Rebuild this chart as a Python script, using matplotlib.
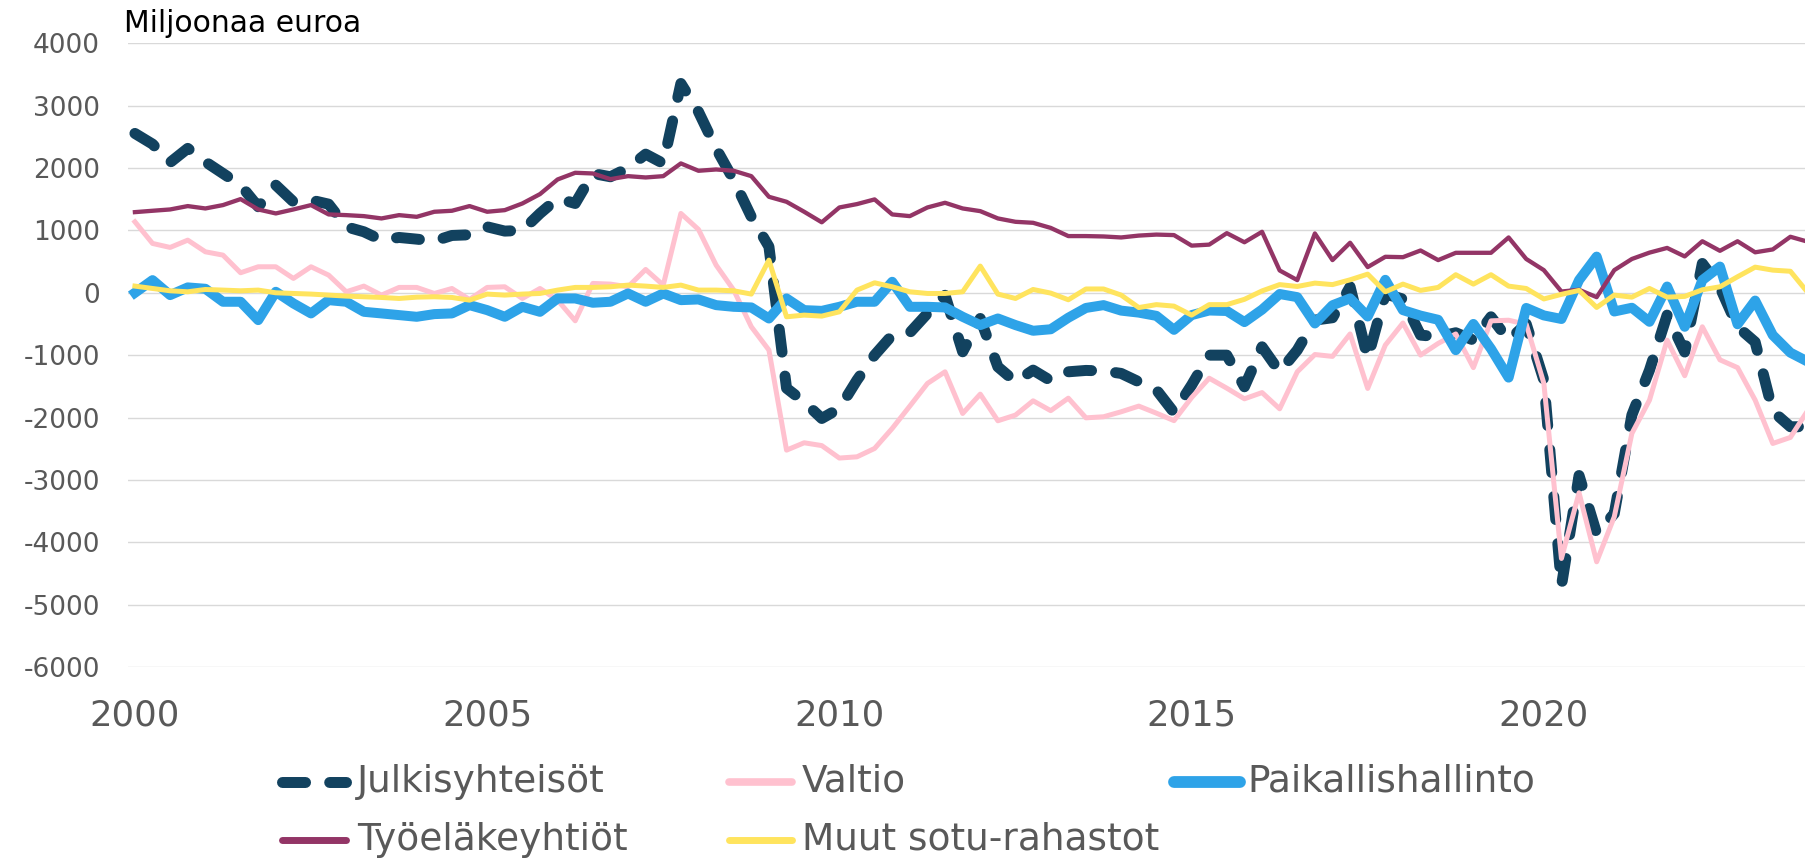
import numpy as np
import pandas as pd
import matplotlib
matplotlib.use("Agg")
import matplotlib.pyplot as plt
from matplotlib.lines import Line2D

plt.rcParams['font.family'] = ['DejaVu Sans']
plt.rcParams['axes.unicode_minus'] = False

# ---------------- data (million euro, quarterly 2000Q1-2023Q4) ----------------
quarters = pd.period_range('2000Q1', '2023Q4', freq='Q')

julkisyhteisot = [2555, 2384, 2090, 2315, 2100, 1913, 1726, 1380, 1726, 1459,
                  1486, 1421, 1058, 978, 845, 887, 860, 830, 919, 930,
                  1058, 989, 1000, 1272, 1512, 1432, 1913, 1860, 2000, 2223,
                  2074, 3356, 2902, 2314, 1807, 1218, 740, -1530, -1750, -2015,
                  -1855, -1400, -999, -679, -640, -331, -40, -946, -412, -1187,
                  -1427, -1240, -1410, -1267, -1245, -1253, -1293, -1427, -1555, -1920,
                  -1480, -1000, -1000, -1507, -866, -1267, -919, -438, -400, 96,
                  -1050, -20, -100, -679, -705, -641, -759, -385, -759, -500,
                  -1400, -4700, -2930, -3860, -3540, -1960, -1240, -358, -950, 470,
                  90, -545, -790, -1900, -2148, -2148]

valtio = [1138, 791, 727, 844, 657, 604, 321, 417, 417, 230,
          417, 283, 16, 107, -37, 86, 86, -11, 69, -107,
          86, 96, -91, 69, -118, -449, 150, 139, 96, 374,
          123, 1272, 1015, 444, 43, -545, -919, -2523, -2405, -2450,
          -2650, -2630, -2496, -2175, -1817, -1454, -1267, -1935, -1625, -2052,
          -1961, -1732, -1890, -1690, -2005, -1988, -1908, -1817, -1930, -2050,
          -1680, -1370, -1530, -1700, -1600, -1860, -1267, -990, -1020, -660,
          -1534, -839, -485, -999, -812, -660, -1200, -450, -440, -505,
          -1450, -4260, -3207, -4313, -3592, -2255, -1721, -759, -1330, -545,
          -1075, -1200, -1721, -2416, -2319, -1881]

paikallishallinto = [0, 203, -37, 86, 64, -144, -144, -438, 16, -171,
                     -331, -118, -144, -305, -331, -358, -385, -342, -331, -198,
                     -278, -385, -225, -305, -91, -91, -160, -144, -11, -144,
                     -11, -118, -107, -198, -225, -235, -412, -91, -278, -290,
                     -225, -144, -144, 176, -225, -225, -235, -385, -518, -412,
                     -518, -609, -585, -400, -243, -198, -286, -318, -370, -594,
                     -358, -284, -292, -470, -270, -20, -70, -492, -200, -90,
                     -380, 208, -278, -366, -433, -920, -500, -898, -1360, -243,
                     -363, -420, 203, 580, -300, -240, -465, 100, -545, 203,
                     420, -505, -125, -679, -960, -1106]

tyoelakeyhtiot = [1293, 1315, 1336, 1390, 1352, 1406, 1502, 1336, 1272, 1336,
                  1406, 1256, 1245, 1229, 1192, 1245, 1218, 1299, 1315, 1390,
                  1299, 1325, 1432, 1582, 1817, 1924, 1913, 1822, 1870, 1849,
                  1870, 2074, 1956, 1977, 1956, 1870, 1539, 1459, 1299, 1130,
                  1368, 1422, 1497, 1256, 1229, 1368, 1443, 1352, 1309, 1192,
                  1138, 1122, 1040, 909, 909, 903, 887, 917, 933, 925,
                  756, 772, 956, 810, 978, 358, 203, 951, 524, 802,
                  412, 577, 571, 678, 524, 641, 641, 641, 887, 542,
                  363, 20, 48, -70, 363, 542, 644, 719, 583, 826,
                  673, 826, 649, 695, 898, 818]

muut_sotu = [107, 69, 32, 16, 53, 43, 32, 43, 0, -11,
             -21, -37, -53, -64, -75, -91, -70, -64, -75, -118,
             -21, -37, -21, -11, 43, 86, 86, 96, 123, 107,
             86, 123, 43, 43, 32, -21, 524, -385, -358, -374,
             -305, 43, 160, 96, 16, -11, -11, 16, 428, -21,
             -91, 53, -5, -112, 61, 61, -37, -237, -190, -214,
             -358, -190, -190, -105, 30, 131, 101, 155, 131, 208,
             299, 16, 139, 38, 86, 290, 139, 290, 107, 69,
             -99, -25, 38, -235, -37, -70, 69, -70, -58, 48,
             96, 257, 411, 363, 345, 0]

series_names = ["Julkisyhteisöt", "Valtio", "Paikallishallinto",
                "Työeläkeyhtiöt", "Muut sotu-rahastot"]
y_ticks = [4000, 3000, 2000, 1000, 0, -1000, -2000, -3000, -4000, -5000, -6000]
x_ticks = [2000, 2005, 2010, 2015, 2020]
y_title = "Miljoonaa euroa"

# ---------------- styling ----------------
W, H = 1805, 859
fig = plt.figure(figsize=(W / 100, H / 100), dpi=100)
left_px, top_px, bottom_px = 127.7, 43.3, 667.0
ax = fig.add_axes([left_px / W, 1 - bottom_px / H, 1 - left_px / W, (bottom_px - top_px) / H])

x = np.array([q.year + (q.quarter - 1) / 4 for q in quarters])

dash_style = (0, (2.1, 2.2))
styles = [
    dict(color="#12425f", lw=7.9, linestyle=dash_style, dash_capstyle="round",
         solid_joinstyle="round"),
    dict(color="#ffc1cf", lw=3.6, solid_joinstyle="round"),
    dict(color="#2ea3e8", lw=7.2, solid_joinstyle="round"),
    dict(color="#933566", lw=3.1, solid_joinstyle="round"),
    dict(color="#ffe45e", lw=3.6, solid_joinstyle="round"),
]
data = [julkisyhteisot, valtio, paikallishallinto, tyoelakeyhtiot, muut_sotu]

for k, (vals, st) in enumerate(zip(data, styles)):
    ax.plot(x, vals, zorder=3 + k, **st)

ax.set_ylim(-6000, 4000)
ax.set_xlim(2000 - 0.41 / 4, 2000 + 94.83 / 4)
ax.set_yticks(y_ticks)
ax.set_xticks(x_ticks)
ax.grid(axis="y", color="#d9d9d9", lw=1.0, zorder=0)
ax.grid(axis="x", visible=False)
for s in ax.spines.values():
    s.set_visible(False)
ax.tick_params(axis="y", length=0, pad=20, labelsize=19, labelcolor="#595959")
ax.tick_params(axis="x", length=0, pad=23, labelsize=25.5, labelcolor="#595959")
ax.set_facecolor("white")

fig.text(124 / W, 1 - 31.7 / H, y_title, fontsize=21.5, color="#000000",
         ha="left", va="baseline")

# ---------------- legend (manual, Excel-like grid) ----------------
leg_pos = [  # (handle_x0, handle_x1, text_x, y_center, baseline)
    (276, 351, 357, 781.7, 792),
    (723, 797, 802, 781.7, 792),
    (1168, 1245, 1247, 781.7, 792),
    (276, 351, 357, 840, 850),
    (723, 797, 802, 840, 850),
]
leg_lw = [7.9, 5.5, 8.5, 5.0, 5.0]
for k, (name, st) in enumerate(zip(series_names, styles)):
    hx0, hx1, tx, yc, bl = leg_pos[k]
    st2 = dict(st)
    st2["lw"] = leg_lw[k]
    ln = Line2D([(hx0 + 5.5) / W, (hx1 - 5.5) / W],
                [1 - yc / H, 1 - yc / H], transform=fig.transFigure,
                solid_capstyle="round", **st2)
    fig.add_artist(ln)
    fig.text(tx / W, 1 - bl / H, name, fontsize=27, color="#595959",
             ha="left", va="baseline")

fig.savefig("out.png", dpi=100, facecolor="white")
